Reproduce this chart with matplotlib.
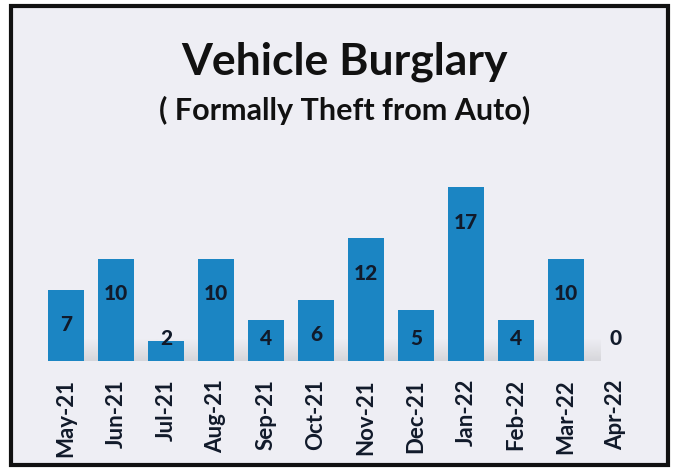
import matplotlib
matplotlib.use('Agg')
import matplotlib.pyplot as plt
from matplotlib.patches import Rectangle
import numpy as np

#---Data
months = ['May-21', 'Jun-21', 'Jul-21', 'Aug-21', 'Sep-21', 'Oct-21',
          'Nov-21', 'Dec-21', 'Jan-22', 'Feb-22', 'Mar-22', 'Apr-22']
counts = [7, 10, 2, 10, 4, 6, 12, 5, 17, 4, 10, 0]

title = 'Vehicle Burglary'
subtitle = '( Formally Theft from Auto)'

#---Style
plt.rcParams['font.family'] = ['Lato', 'DejaVu Sans']
bar_color = '#1b85c3'
text_color = '#111a2a'

fig = plt.figure(figsize=(6.75, 4.71), dpi=100, facecolor='white')

#---Panel background and black frame (behind the axes)
fig.patches.append(Rectangle((11/675, 6/471), 657/675, 459/471, transform=fig.transFigure,
                             facecolor='#eeeef4', edgecolor='#111111', linewidth=3, zorder=-1))

ax = fig.add_axes([41/675, 110/471, 600/675, 194/471])
ax.set_facecolor('none')
x = np.arange(len(months))

#---soft shadow along the baseline (fades upward)
shade = np.zeros((40, 1, 4))
shade[..., :3] = 0.6
shade[:, 0, 3] = np.linspace(0.28, 0.0, 40)
ax.imshow(shade, extent=(-0.3, 10.7, 0, 2.2), origin='lower', aspect='auto',
          interpolation='bilinear', zorder=1)

ax.bar(x, counts, width=0.72, color=bar_color, zorder=2)

for xi, v in zip(x, counts):
    ax.text(xi, max(v - 3.4, 2.25), str(v), ha='center', va='center',
            fontsize=15, fontweight='black', color=text_color, zorder=3)

ax.set_xlim(-0.5, len(months) - 0.5)
ax.set_ylim(0, 19)
ax.set_yticks([])
ax.set_xticks(x)
ax.set_xticklabels(months, rotation=90, fontsize=16, fontweight='bold', color=text_color)
ax.tick_params(axis='x', length=0, pad=13)
for s in ax.spines.values():
    s.set_visible(False)

fig.text(0.51, (471 - 62) / 471, title, ha='center', va='center',
         fontsize=32, fontweight='bold', color='#111111')
fig.text(0.51, (471 - 110) / 471, subtitle, ha='center', va='center',
         fontsize=22, fontweight='bold', color='#111111')

fig.savefig('out.png', dpi=100, facecolor='white')
